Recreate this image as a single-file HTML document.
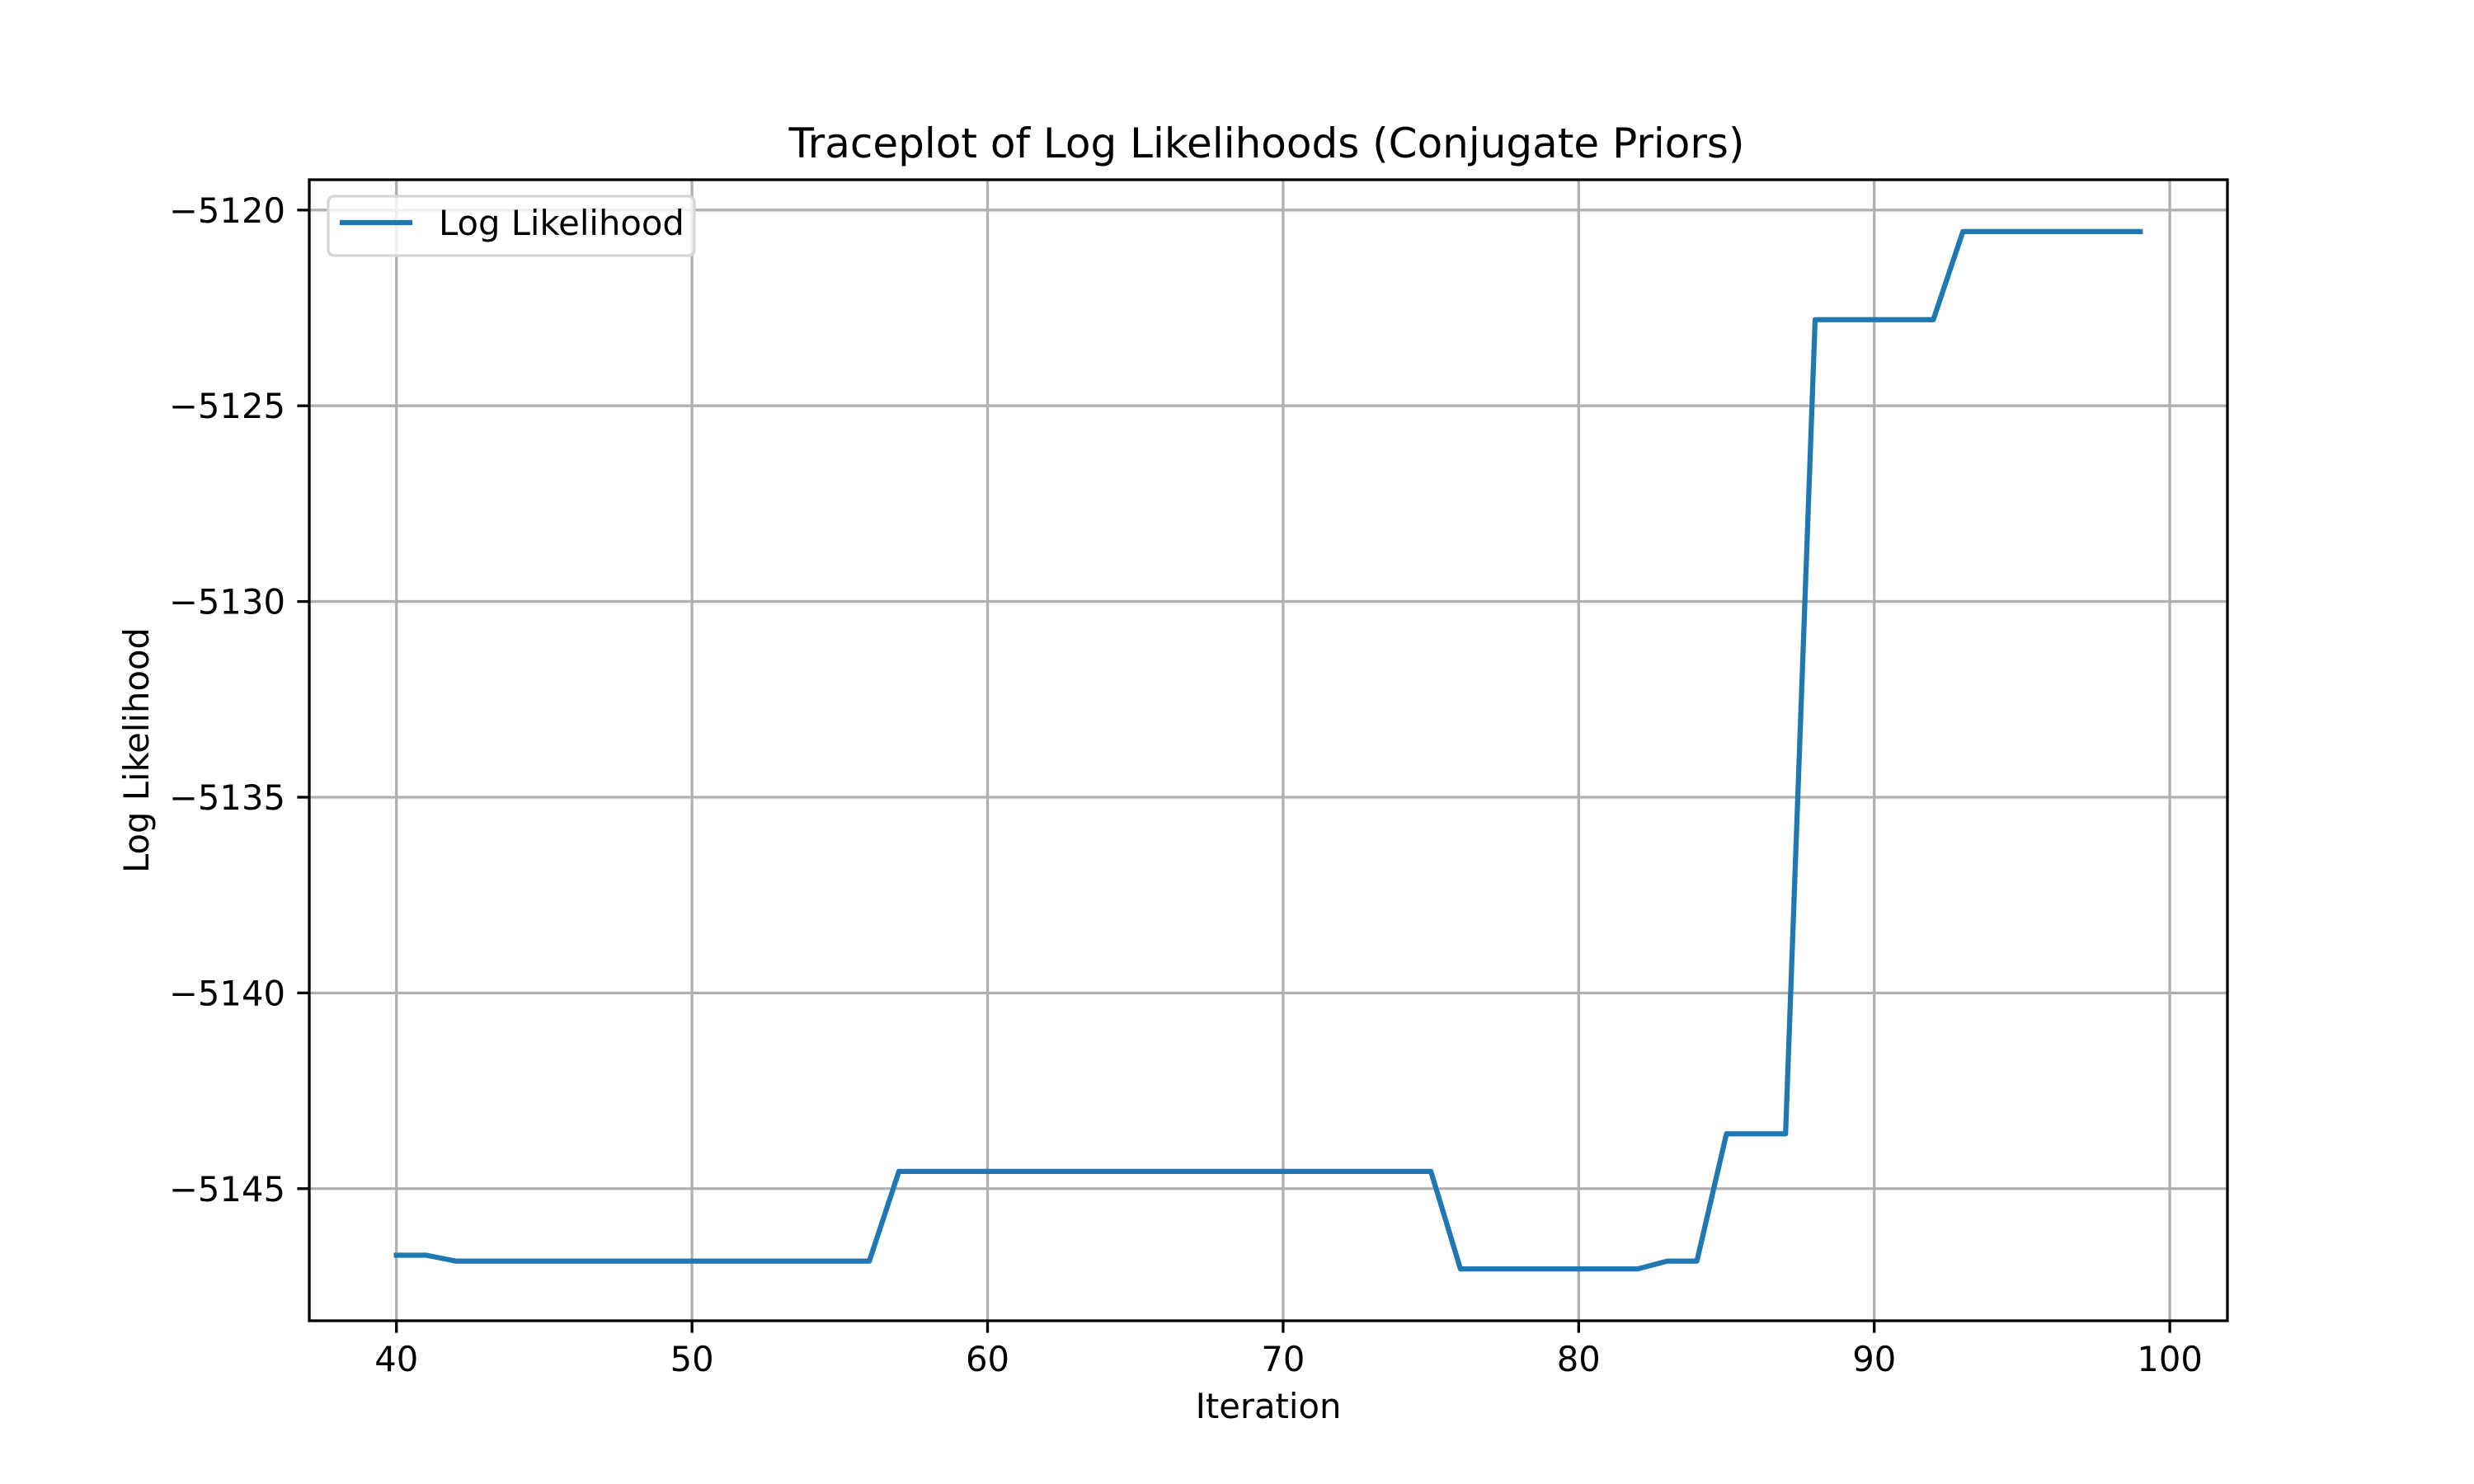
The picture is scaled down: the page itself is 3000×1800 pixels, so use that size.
<!DOCTYPE html>
<html><head><meta charset="utf-8"><style>
html,body{margin:0;padding:0;background:#fff;}
svg{display:block;font-family:"DejaVu Sans","Liberation Sans",sans-serif;}
</style></head><body>
<svg id="chart" width="3000" height="1800" viewBox="0 0 3000 1800" xmlns="http://www.w3.org/2000/svg">
<rect x="0" y="0" width="3000" height="1800" fill="#fff"/>
<g id="grid"></g>
<g id="series"></g>
<rect x="375" y="218" width="2326" height="1384" fill="none" stroke="#000" stroke-width="3.3"/>
<g id="ticks"></g>
<text x="1536" y="191" font-size="50" text-anchor="middle">Traceplot of Log Likelihoods (Conjugate Priors)</text>
<text x="1538" y="1720" font-size="41.7" text-anchor="middle">Iteration</text>
<text x="0" y="0" font-size="41.7" text-anchor="middle" transform="translate(180,910) rotate(-90)">Log Likelihood</text>
<g>
<rect x="398" y="238" width="444" height="72" rx="7" fill="#fff" fill-opacity="0.8" stroke="#d6d6d6" stroke-width="3.3"/>
<line x1="412" y1="270" x2="500" y2="270" stroke="#1f77b4" stroke-width="6.25"/>
<text x="532" y="285" font-size="41.7">Log Likelihood</text>
</g>
</svg>
<script>
const iterations = [40,41,42,43,44,45,46,47,48,49,50,51,52,53,54,55,56,57,58,59,60,61,62,63,64,65,66,67,68,69,70,71,72,73,74,75,76,77,78,79,80,81,82,83,84,85,86,87,88,89,90,91,92,93,94,95,96,97,98,99];
const logLik = [-5146.7,-5146.7,-5146.85,-5146.85,-5146.85,-5146.85,-5146.85,-5146.85,-5146.85,-5146.85,-5146.85,-5146.85,-5146.85,-5146.85,-5146.85,-5146.85,-5146.85,
-5144.56,-5144.56,-5144.56,-5144.56,-5144.56,-5144.56,-5144.56,-5144.56,-5144.56,-5144.56,-5144.56,-5144.56,-5144.56,-5144.56,-5144.56,-5144.56,-5144.56,-5144.56,-5144.56,
-5147.05,-5147.05,-5147.05,-5147.05,-5147.05,-5147.05,-5147.05,
-5146.85,-5146.85,
-5143.6,-5143.6,-5143.6,
-5122.8,-5122.8,-5122.8,-5122.8,-5122.8,
-5120.55,-5120.55,-5120.55,-5120.55,-5120.55,-5120.55,-5120.55];
const xTicks = [40,50,60,70,80,90,100];
const yTicks = [-5145,-5140,-5135,-5130,-5125,-5120];

const L=375,R=2701,T=218,B=1602;
const xmin0=Math.min(...iterations), xmax0=Math.max(...iterations);
const xpad=(xmax0-xmin0)*0.05;
const xmin=xmin0-xpad, xmax=xmax0+xpad;
const ymin0=Math.min(...logLik), ymax0=Math.max(...logLik);
const ypad=(ymax0-ymin0)*0.05;
const ymin=ymin0-ypad, ymax=ymax0+ypad;
const sx=v=>L+(v-xmin)/(xmax-xmin)*(R-L);
const sy=v=>B-(v-ymin)/(ymax-ymin)*(B-T);
const NS='http://www.w3.org/2000/svg';
const grid=document.getElementById('grid'), ticks=document.getElementById('ticks'), series=document.getElementById('series');
function mk(tag,attrs){const e=document.createElementNS(NS,tag);for(const k in attrs)e.setAttribute(k,attrs[k]);return e;}
xTicks.forEach(v=>{
  const x=sx(v);
  const g=mk('line',{x1:x,x2:x,y1:T,y2:B,stroke:'#b0b0b0','stroke-width':3.3});
  
  
  grid.appendChild(g);
  const t=mk('line',{x1:x,x2:x,y1:B,y2:B+14.6,stroke:'#000','stroke-width':3.3});
  
  
  ticks.appendChild(t);
  const lb=mk('text',{x:x,y:1663,'font-size':41.7,'text-anchor':'middle'});
  
  
  lb.textContent=String(v);
  ticks.appendChild(lb);
});
yTicks.forEach(v=>{
  const y=sy(v);
  const g=mk('line',{x1:L,x2:R,y1:y,y2:y,stroke:'#b0b0b0','stroke-width':3.3});
  
  
  grid.appendChild(g);
  const t=mk('line',{x1:L-14.6,x2:L,y1:y,y2:y,stroke:'#000','stroke-width':3.3});
  
  
  ticks.appendChild(t);
  const lb=mk('text',{x:346,y:y+15,'font-size':41.7,'text-anchor':'end'});
  
  
  lb.textContent='\u2212'+String(Math.abs(v));
  ticks.appendChild(lb);
});
const pts=iterations.map((it,i)=>sx(it).toFixed(2)+','+sy(logLik[i]).toFixed(2)).join(' ');
const pl=mk('polyline',{points:pts,fill:'none',stroke:'#1f77b4','stroke-width':6.25,'stroke-linejoin':'round','stroke-linecap':'square'});


series.appendChild(pl);
</script>
</body></html>
